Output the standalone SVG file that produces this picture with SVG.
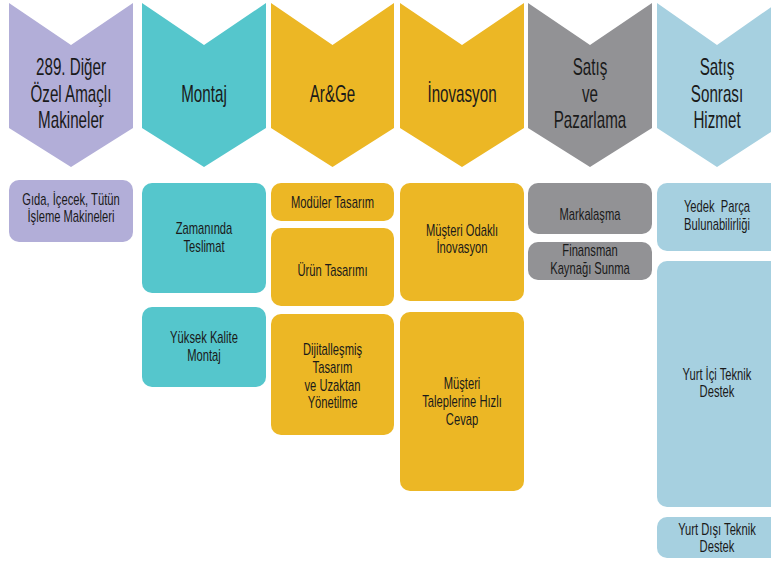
<svg xmlns="http://www.w3.org/2000/svg" width="771" height="561" viewBox="0 0 771 561">
<style>
.h{font-family:"Liberation Sans",Arial,sans-serif;font-size:23px;fill:#1a1a1a;text-anchor:middle}
.b{font-family:"Liberation Sans",Arial,sans-serif;font-size:16px;fill:#1a1a1a;text-anchor:middle}
.pu{fill:#b2aed8}.te{fill:#55c6cc}.ye{fill:#ecb725}.gr{fill:#929295}.lb{fill:#a6d0e0}
</style>
<rect width="771" height="561" fill="#fff"/>
<g id="h1"><polygon class="pu" points="9,3 71,45 133,3 133,128 71,167 9,128"/>
<text class="h" transform="translate(71 0) scale(0.66 1)" y="75">289. Diğer</text>
<text class="h" transform="translate(71 0) scale(0.66 1)" y="102">Özel Amaçlı</text>
<text class="h" transform="translate(71 0) scale(0.66 1)" y="128">Makineler</text></g>
<g id="h2"><polygon class="te" points="142,3 204,45 266,3 266,128 204,167 142,128"/>
<text class="h" transform="translate(204 0) scale(0.66 1)" y="102">Montaj</text></g>
<g id="h3"><polygon class="ye" points="271,3 332.5,45 394,3 394,128 332.5,167 271,128"/>
<text class="h" transform="translate(332.5 0) scale(0.66 1)" y="102">Ar&amp;Ge</text></g>
<g id="h4"><polygon class="ye" points="400,3 462,45 524,3 524,128 462,167 400,128"/>
<text class="h" transform="translate(462 0) scale(0.66 1)" y="102">İnovasyon</text></g>
<g id="h5"><polygon class="gr" points="528,3 590,45 652,3 652,128 590,167 528,128"/>
<text class="h" transform="translate(590 0) scale(0.66 1)" y="75">Satış</text>
<text class="h" transform="translate(590 0) scale(0.66 1)" y="102">ve</text>
<text class="h" transform="translate(590 0) scale(0.66 1)" y="128">Pazarlama</text></g>
<g id="h6"><polygon class="lb" points="657,3 717,45 777,3 777,128 717,167 657,128"/>
<text class="h" transform="translate(717 0) scale(0.66 1)" y="75">Satış</text>
<text class="h" transform="translate(717 0) scale(0.66 1)" y="102">Sonrası</text>
<text class="h" transform="translate(717 0) scale(0.66 1)" y="128">Hizmet</text></g>

<g id="b1"><rect class="pu" x="9" y="180" width="124" height="62" rx="10"/>
<text class="b" transform="translate(71 0) scale(0.7 1)" y="205">Gıda, İçecek, Tütün</text>
<text class="b" transform="translate(71 0) scale(0.7 1)" y="222">İşleme Makineleri</text></g>
<g id="b2"><rect class="te" x="142" y="183" width="124" height="110" rx="10"/>
<text class="b" transform="translate(204 0) scale(0.7 1)" y="234">Zamanında</text>
<text class="b" transform="translate(204 0) scale(0.7 1)" y="252">Teslimat</text></g>
<g id="b3"><rect class="te" x="142" y="307" width="124" height="80" rx="10"/>
<text class="b" transform="translate(204 0) scale(0.7 1)" y="343">Yüksek Kalite</text>
<text class="b" transform="translate(204 0) scale(0.7 1)" y="361">Montaj</text></g>
<g id="b4"><rect class="ye" x="271" y="183" width="123" height="38" rx="10"/>
<text class="b" transform="translate(332.5 0) scale(0.7 1)" y="208">Modüler Tasarım</text></g>
<g id="b5"><rect class="ye" x="271" y="228" width="123" height="78" rx="10"/>
<text class="b" transform="translate(332.5 0) scale(0.7 1)" y="276">Ürün Tasarımı</text></g>
<g id="b6"><rect class="ye" x="271" y="314" width="123" height="121" rx="10"/>
<text class="b" transform="translate(332.5 0) scale(0.7 1)" y="355">Dijitalleşmiş</text>
<text class="b" transform="translate(332.5 0) scale(0.7 1)" y="373">Tasarım</text>
<text class="b" transform="translate(332.5 0) scale(0.7 1)" y="391">ve Uzaktan</text>
<text class="b" transform="translate(332.5 0) scale(0.7 1)" y="408">Yönetilme</text></g>
<g id="b7"><rect class="ye" x="400" y="183" width="124" height="118" rx="10"/>
<text class="b" transform="translate(462 0) scale(0.7 1)" y="236">Müşteri Odaklı</text>
<text class="b" transform="translate(462 0) scale(0.7 1)" y="253">İnovasyon</text></g>
<g id="b8"><rect class="ye" x="400" y="312" width="124" height="179" rx="10"/>
<text class="b" transform="translate(462 0) scale(0.7 1)" y="389">Müşteri</text>
<text class="b" transform="translate(462 0) scale(0.7 1)" y="407">Taleplerine Hızlı</text>
<text class="b" transform="translate(462 0) scale(0.7 1)" y="425">Cevap</text></g>
<g id="b9"><rect class="gr" x="528" y="183" width="124" height="51" rx="10"/>
<text class="b" transform="translate(590 0) scale(0.7 1)" y="220">Markalaşma</text></g>
<g id="b10"><rect class="gr" x="528" y="242" width="124" height="38" rx="10"/>
<text class="b" transform="translate(590 0) scale(0.7 1)" y="256">Finansman</text>
<text class="b" transform="translate(590 0) scale(0.7 1)" y="274">Kaynağı Sunma</text></g>
<g id="b11"><rect class="lb" x="657" y="183" width="130" height="68" rx="10"/>
<text class="b" transform="translate(717 0) scale(0.7 1)" y="212">Yedek&#160; Parça</text>
<text class="b" transform="translate(717 0) scale(0.7 1)" y="230">Bulunabilirliği</text></g>
<g id="b12"><rect class="lb" x="657" y="261" width="130" height="246" rx="10"/>
<text class="b" transform="translate(717 0) scale(0.7 1)" y="380">Yurt İçi Teknik</text>
<text class="b" transform="translate(717 0) scale(0.7 1)" y="397">Destek</text></g>
<g id="b13"><rect class="lb" x="657" y="517" width="130" height="41" rx="10"/>
<text class="b" transform="translate(717 0) scale(0.7 1)" y="535">Yurt Dışı Teknik</text>
<text class="b" transform="translate(717 0) scale(0.7 1)" y="552">Destek</text></g>
</svg>
